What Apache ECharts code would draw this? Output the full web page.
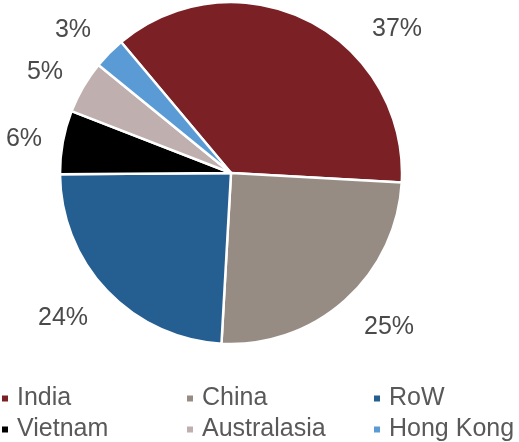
<!DOCTYPE html>
<html>
<head>
<meta charset="utf-8">
<script src="https://cdn.jsdelivr.net/npm/echarts@6/dist/echarts.min.js"></script>
<style>
  html, body { margin: 0; padding: 0; background: #fff; }
  #chart { width: 519px; height: 442px; }
</style>
</head>
<body>
<div id="chart"></div>
<script>
// Share of total by market (%), clockwise from India
const markets = ['India', 'China', 'RoW', 'Vietnam', 'Australasia', 'Hong Kong'];
const shares = [37, 25, 24, 6, 5, 3];
const colors = ['#7b2025', '#968c83', '#255e91', '#000000', '#bfafae', '#5b9bd5'];

// Where each percentage label sits (x, y in px), beside its slice
const labelSpots = [[397, 29], [389, 327], [63, 318], [24, 139], [45, 72], [73, 30]];

// Legend laid out as three columns of two entries
const legendColumns = [['India', 'Vietnam'], ['China', 'Australasia'], ['RoW', 'Hong Kong']];
const legendLefts = [0, 185, 372];

const font = '"Liberation Sans", Arial, sans-serif';

const chart = echarts.init(document.getElementById('chart'), null, { renderer: 'canvas' });

chart.setOption({
  animation: false,
  color: colors,
  legend: legendColumns.map((names, i) => ({
    data: names,
    orient: 'vertical',
    left: legendLefts[i],
    top: 386,
    height: 80,
    itemWidth: 8,
    itemHeight: 8,
    itemGap: 6,
    icon: 'rect',
    selectedMode: false,
    padding: 0,
    textStyle: { color: '#595959', fontSize: 25, fontFamily: font, padding: [0, 0, 0, 3] }
  })),
  series: [{
    type: 'pie',
    center: [231, 173],
    radius: 171,
    startAngle: 130,
    clockwise: true,
    silent: true,
    avoidLabelOverlap: false,
    minShowLabelAngle: 0,
    itemStyle: { borderColor: '#ffffff', borderWidth: 2.5 },
    label: {
      show: true,
      position: 'outside',
      formatter: '{c}%',
      color: '#4a4a4a',
      fontSize: 25,
      fontFamily: font,
      overflow: 'none'
    },
    labelLine: { show: false },
    labelLayout: (params) => {
      const spot = labelSpots[params.dataIndex];
      return { x: spot[0], y: spot[1], align: 'center', verticalAlign: 'middle', hideOverlap: false };
    },
    data: markets.map((name, i) => ({ name: name, value: shares[i] }))
  }]
});
</script>
</body>
</html>
